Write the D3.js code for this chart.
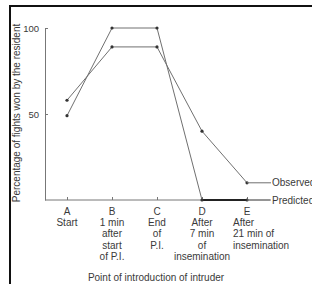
<!DOCTYPE html>
<html>
<head>
<meta charset="utf-8">
<script src="https://cdn.jsdelivr.net/npm/d3@7"></script>
<style>
  body { margin: 0; background: #fff; }
  svg { display: block; font-family: "Liberation Sans", Arial, sans-serif; }
  text { fill: #3a3a3a; }
</style>
</head>
<body>
<div id="container"></div>
<script>
// data
const categories = ["A", "B", "C", "D", "E"];
const observed = [58, 89, 89, 40, 10];
const predicted = [49, 100, 100, 0, 0];
const yTicks = [50, 100];
const xLabels = [
  ["Start"],
  ["1 min", "after", "start", "of P.I."],
  ["End", "of", "P.I."],
  ["After", "7 min", "of", "insemination"],
  ["After", "21 min of", "insemination"]
];

const W = 312, H = 284;
const plotLeft = 45, plotRight = 270, plotTop = 28, plotBottom = 200;

const svg = d3.select('#container')
  .append('svg')
  .attr('width', W)
  .attr('height', H);

// frame (left + top rule)
svg.append('path')
  .attr('d', `M10,${H} V6 H${W}`)
  .attr('fill', 'none')
  .attr('stroke', '#111')
  .attr('stroke-width', 2);

const x = d3.scalePoint()
  .domain(categories)
  .range([67, 247]);

const y = d3.scaleLinear()
  .domain([0, 100])
  .range([plotBottom, plotTop]);

// y axis
const yAxis = svg.append('g')
  .attr('transform', `translate(${plotLeft},0)`)
  .call(d3.axisLeft(y).tickValues(yTicks).tickSize(-3).tickSizeOuter(0).tickPadding(6));
yAxis.select('.domain').attr('stroke', '#777');
yAxis.selectAll('.tick line').attr('stroke', '#777');
yAxis.selectAll('.tick text')
  .attr('font-size', 9.5)
  .attr('font-family', '"Liberation Sans", Arial, sans-serif')
  .attr('fill', '#3a3a3a');

// x axis line
svg.append('line')
  .attr('x1', plotLeft).attr('x2', plotRight)
  .attr('y1', plotBottom).attr('y2', plotBottom)
  .attr('stroke', '#777');

const xAxis = svg.append('g')
  .attr('transform', `translate(0,${plotBottom})`)
  .call(d3.axisBottom(x).tickSize(-3).tickSizeOuter(0).tickFormat(''));
xAxis.select('.domain').remove();
xAxis.selectAll('.tick line').attr('stroke', '#777');

// category labels
const lab = svg.append('g')
  .attr('font-size', 10);
categories.forEach((c, i) => {
  const isLast = i === categories.length - 1;
  const t = lab.append('text')
    .attr('x', x(c))
    .attr('y', 214.5)
    .attr('text-anchor', 'middle');
  t.append('tspan').attr('x', x(c)).text(c);
  xLabels[i].forEach(s => {
    t.append('tspan')
      .attr('x', isLast ? x(c) - 14 : x(c))
      .attr('dy', 11.4)
      .attr('text-anchor', isLast ? 'start' : 'middle')
      .text(s);
  });
});

// lines
const line = d3.line()
  .x((d, i) => x(categories[i]))
  .y(d => y(d));

[observed, predicted].forEach(ser => {
  svg.append('path')
    .datum(ser)
    .attr('d', line)
    .attr('fill', 'none')
    .attr('stroke', '#707070')
    .attr('stroke-width', 1);
});

// heavy predicted segment lying on the axis
svg.append('line')
  .attr('x1', x('D')).attr('x2', x('E'))
  .attr('y1', y(predicted[3])).attr('y2', y(predicted[4]))
  .attr('stroke', '#222')
  .attr('stroke-width', 2);

[observed, predicted].forEach(ser => {
  svg.append('g')
    .selectAll('circle')
    .data(ser)
    .enter()
    .append('circle')
    .attr('cx', (d, i) => x(categories[i]))
    .attr('cy', d => y(d))
    .attr('r', 1.6)
    .attr('fill', '#333');
});

// series labels with leader lines
const lastIdx = categories.length - 1;
[["Observed", observed[lastIdx]], ["Predicted", predicted[lastIdx]]].forEach(([name, v]) => {
  svg.append('line')
    .attr('x1', x(categories[lastIdx])).attr('x2', 271)
    .attr('y1', y(v)).attr('y2', y(v))
    .attr('stroke', '#707070');
  svg.append('text')
    .attr('x', 272)
    .attr('y', y(v) + 3.5)
    .attr('font-size', 10)
    .text(name);
});

// axis titles
svg.append('text')
  .attr('transform', 'translate(20,113) rotate(-90)')
  .attr('text-anchor', 'middle')
  .attr('font-size', 10)
  .text('Percentage of fights won by the resident');

svg.append('text')
  .attr('x', 156)
  .attr('y', 280.5)
  .attr('text-anchor', 'middle')
  .attr('font-size', 10)
  .text('Point of introduction of intruder');
</script>
</body>
</html>
